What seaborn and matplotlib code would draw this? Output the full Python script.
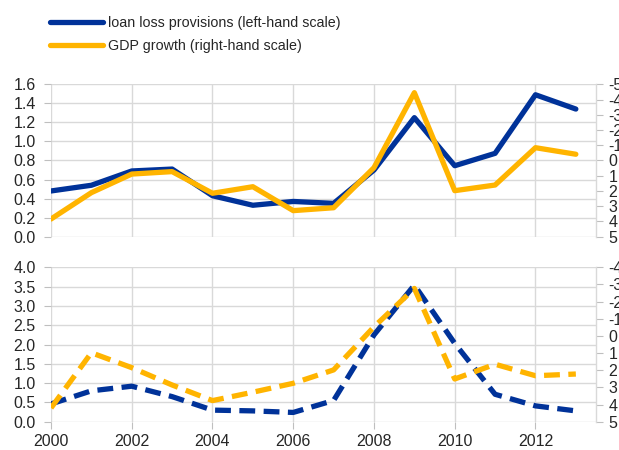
import matplotlib
matplotlib.use("Agg")
import matplotlib.pyplot as plt
import seaborn as sns
import pandas as pd
from matplotlib.lines import Line2D

years = list(range(2000, 2014))

# top panel (solid lines)
llp_top = [0.48, 0.54, 0.69, 0.71, 0.43, 0.33, 0.37, 0.35, 0.70, 1.25, 0.745, 0.875, 1.49, 1.34]
gdp_top = [3.84, 2.11, 0.89, 0.73, 2.15, 1.72, 3.29, 3.10, 0.47, -4.45, 1.98, 1.61, -0.84, -0.41]

# bottom panel (dashed lines)
llp_bot = [0.46, 0.80, 0.92, 0.65, 0.30, 0.28, 0.24, 0.55, 2.25, 3.54, 2.03, 0.71, 0.41, 0.28]
gdp_bot = [4.20, 0.98, 1.85, 2.86, 3.77, 3.28, 2.76, 1.98, -0.53, -2.77, 2.51, 1.65, 2.32, 2.22]

legend_labels = ["loan loss provisions (left-hand scale)", "GDP growth (right-hand scale)"]
xticks = list(range(2000, 2013, 2))

BLUE = "#003299"
YELLOW = "#FFB400"
GRID = "#d9d9d9"

sns.set_style("white")
plt.rcParams["font.family"] = ["Liberation Sans", "DejaVu Sans"]
FS = 11.5
LFS = 10.3

fig = plt.figure(figsize=(6.19, 4.5), dpi=100)

df_top = pd.DataFrame({"year": years, "llp": llp_top, "gdp": gdp_top})
df_bot = pd.DataFrame({"year": years, "llp": llp_bot, "gdp": gdp_bot})

def style_axes(ax, ax2, ylim, yticks, rlim, rticks, show_x):
    ax.set_xlim(2000, 2013.5)
    ax.set_ylim(*ylim)
    ax.set_yticks(yticks)
    ax.set_yticklabels([f"{v:.1f}" for v in yticks], fontsize=FS)
    ax.set_xticks(xticks)
    if show_x:
        ax.set_xticklabels([str(v) for v in xticks], fontsize=FS)
        ax.tick_params(axis="x", length=5, color="#bfbfbf", pad=4, bottom=True)
    else:
        ax.set_xticklabels([])
        ax.tick_params(axis="x", length=0)
    ax.tick_params(axis="y", length=5, color="#bfbfbf", pad=6, left=True)
    ax.grid(True, color=GRID, lw=1)
    ax.set_axisbelow(True)
    for s in ax.spines.values():
        s.set_visible(False)
    ax.set_xlabel("")
    ax.set_ylabel("")
    ax2.set_ylim(*rlim)
    ax2.set_yticks(rticks)
    ax2.set_yticklabels([str(v) for v in rticks], fontsize=FS)
    ax2.tick_params(axis="y", length=5, color="#bfbfbf", pad=4, right=True)
    ax2.grid(False)
    for k, s in ax2.spines.items():
        s.set_visible(k == "right")
    ax2.spines["right"].set_color(GRID)
    ax2.spines["right"].set_linewidth(1)
    ax2.set_ylabel("")

# Top panel
ax1 = fig.add_axes([0.0824, 0.474, 0.8805, 0.3387])
ax1r = ax1.twinx()
sns.lineplot(data=df_top, x="year", y="llp", ax=ax1, color=BLUE, lw=3.8, sort=False)
sns.lineplot(data=df_top, x="year", y="gdp", ax=ax1r, color=YELLOW, lw=3.8, sort=False)
style_axes(ax1, ax1r, (0, 1.6), [round(0.2 * i, 1) for i in range(9)],
           (5, -5), list(range(-5, 6)), False)

# Bottom panel
ax2 = fig.add_axes([0.0824, 0.0629, 0.8805, 0.343])
ax2r = ax2.twinx()
dash = (0, (3.0, 1.6))
sns.lineplot(data=df_bot, x="year", y="llp", ax=ax2, color=BLUE, lw=3.8, sort=False, linestyle=dash)
sns.lineplot(data=df_bot, x="year", y="gdp", ax=ax2r, color=YELLOW, lw=3.8, sort=False, linestyle=dash)
style_axes(ax2, ax2r, (0, 4.0), [round(0.5 * i, 1) for i in range(9)],
           (5, -4), list(range(-4, 6)), True)

handles = [Line2D([], [], color=BLUE, lw=3.8), Line2D([], [], color=YELLOW, lw=3.8)]
fig.legend(handles, legend_labels, loc="upper left", bbox_to_anchor=(50 / 619, 1 - 16 / 450),
           frameon=False, fontsize=LFS, handlelength=3.7, handletextpad=0.35,
           labelspacing=0.6, borderpad=0, borderaxespad=0)

fig.savefig("out.png", dpi=100)
